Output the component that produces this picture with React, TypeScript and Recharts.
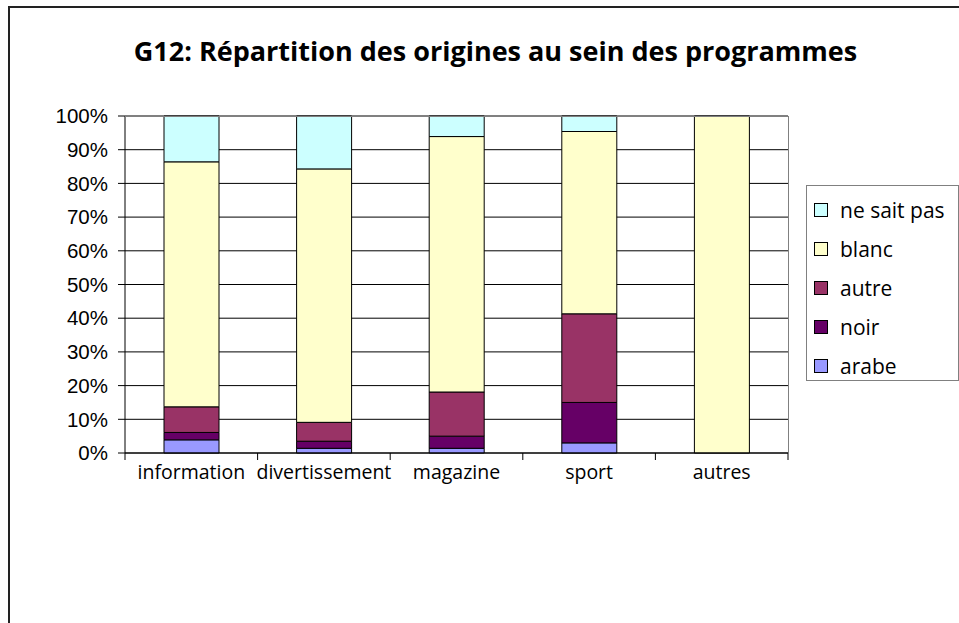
import React from "react";
import { BarChart, Bar, XAxis, YAxis, CartesianGrid } from "recharts";

const categories = ["information", "divertissement", "magazine", "sport", "autres"];
const arabe = [3.9, 1.4, 1.4, 3.0, 0];
const noir = [2.2, 2.1, 3.6, 12.0, 0];
const autre = [7.6, 5.6, 13.1, 26.3, 0];
const blanc = [72.7, 75.2, 75.8, 54.1, 100];
const neSaitPas = [13.6, 15.7, 6.1, 4.6, 0];
const yTicks = [0, 10, 20, 30, 40, 50, 60, 70, 80, 90, 100];

const series = [
  { key: "arabe", name: "arabe", color: "#9999FF" },
  { key: "noir", name: "noir", color: "#660066" },
  { key: "autre", name: "autre", color: "#993366" },
  { key: "blanc", name: "blanc", color: "#FFFFCC" },
  { key: "neSaitPas", name: "ne sait pas", color: "#CCFFFF" },
];

const data = categories.map((name, i) => ({
  name,
  arabe: arabe[i],
  noir: noir[i],
  autre: autre[i],
  blanc: blanc[i],
  neSaitPas: neSaitPas[i],
}));

const W = 959;
const H = 623;
const margin = { top: 116, right: 171, left: 0, bottom: 140 };
const yAxisWidth = 125;
const plotWidth = W - margin.left - margin.right - yAxisWidth;
const TICK_SIZE = 7;
const TICK_MARGIN = 5;

const textFont = "'Open Sans', sans-serif";

// Excel-style category axis: label in the middle, tick marks between categories
function CategoryTick(props: any) {
  const { x, y, payload, index } = props;
  const half = plotWidth / categories.length / 2;
  const top = y - TICK_SIZE - TICK_MARGIN;
  return (
    <g>
      <line x1={x - half} x2={x - half} y1={top} y2={top + TICK_SIZE} stroke="#000" />
      {index === categories.length - 1 && (
        <line x1={x + half} x2={x + half} y1={top} y2={top + TICK_SIZE} stroke="#000" />
      )}
      <text x={x} y={y} dy="0.71em" textAnchor="middle" fill="#000" fontFamily={textFont} fontSize={19.5}>
        {payload.value}
      </text>
    </g>
  );
}

// legend sits outside the chart so it doesn't eat plot space
function LegendBox() {
  return (
    <div
      style={{
        position: "absolute",
        left: 806,
        top: 185,
        border: "1px solid #808080",
        boxSizing: "border-box",
        width: 153,
        height: 196,
        padding: "4px 0 0 7px",
        background: "#fff",
      }}
    >
      {[...series].reverse().map((s) => (
        <div
          key={s.key}
          style={{ display: "flex", alignItems: "center", height: 39, fontFamily: textFont, fontSize: 21, color: "#000", whiteSpace: "nowrap" }}
        >
          <span
            style={{
              display: "inline-block",
              width: 12,
              height: 12,
              background: s.color,
              border: "1px solid #000",
              marginRight: 12,
              flexShrink: 0,
            }}
          />
          {s.name}
        </div>
      ))}
    </div>
  );
}

export default function App() {
  return (
    <div style={{ position: "absolute", left: 0, top: 0, width: W, height: H, background: "#fff", overflow: "hidden" }}>
      <div
        style={{
          position: "absolute",
          left: 8,
          top: 6,
          width: 1000,
          height: 700,
          borderLeft: "2px solid #222",
          borderTop: "2px solid #222",
        }}
      />
      <div
        style={{
          position: "absolute",
          left: 0,
          width: 991,
          top: 32,
          textAlign: "center",
          fontFamily: textFont,
          fontWeight: 700,
          fontSize: 27,
          color: "#000",
          whiteSpace: "nowrap",
        }}
      >
        G12: Répartition des origines au sein des programmes
      </div>
      <BarChart
        width={W}
        height={H}
        data={data}
        margin={margin}
        barSize={55}
        style={{ position: "absolute", left: 0, top: 0 }}
      >
        <CartesianGrid vertical={false} stroke="#000" strokeOpacity={1} />
        <XAxis
          dataKey="name"
          tickLine={false}
          tickSize={TICK_SIZE}
          tickMargin={TICK_MARGIN}
          axisLine={{ stroke: "#000" }}
          tick={<CategoryTick />}
          height={30}
          interval={0}
        />
        <YAxis
          domain={[0, 100]}
          ticks={yTicks}
          tickFormatter={(v) => `${v}%`}
          width={yAxisWidth}
          tickSize={7}
          tickMargin={10}
          tickLine={{ stroke: "#000" }}
          axisLine={{ stroke: "#000" }}
          tick={{ fill: "#000", fontFamily: "'Liberation Sans', Arial, sans-serif", fontSize: 20.5 }}
          interval={0}
        />
        {series.map((s) => (
          <Bar
            key={s.key}
            dataKey={s.key}
            name={s.name}
            stackId="a"
            fill={s.color}
            stroke="#000"
            strokeWidth={1}
            isAnimationActive={false}
          />
        ))}
      </BarChart>
      <div
        style={{
          position: "absolute",
          left: 125,
          top: 116,
          width: 664,
          height: 337,
          boxSizing: "border-box",
          borderTop: "1px solid #808080",
          borderRight: "1px solid #808080",
          pointerEvents: "none",
        }}
      />
      <LegendBox />
    </div>
  );
}
